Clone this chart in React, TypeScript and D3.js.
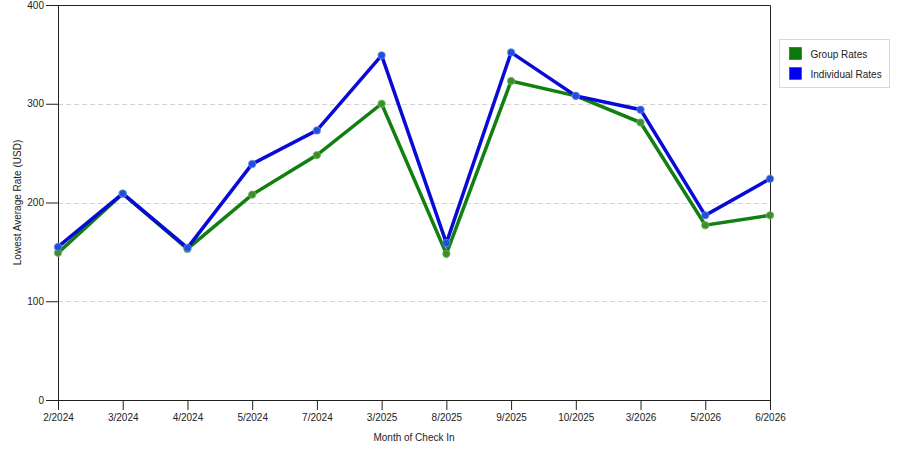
import { useEffect, useRef } from "react";
import * as d3 from "d3";

const MONTHS = ["2/2024", "3/2024", "4/2024", "5/2024", "7/2024", "3/2025", "8/2025", "9/2025", "10/2025", "3/2026", "5/2026", "6/2026"];
const GROUP_RATES = [149, 209, 153, 208, 248, 300, 148, 323, 308, 281, 177, 187];
const INDIVIDUAL_RATES = [155, 209, 154, 239, 273, 349, 159, 352, 308, 294, 187, 224];
const Y_TICKS = [0, 100, 200, 300, 400];

const SERIES = [
  { name: "Group Rates", values: GROUP_RATES, line: "#118011", dot: "#3a8f2a", ring: "#6fb25f", swatch: "#0b7a0b" },
  { name: "Individual Rates", values: INDIVIDUAL_RATES, line: "#0a0ad6", dot: "#1f4fd8", ring: "#5f86ee", swatch: "#0000ee" },
];

export default function App() {
  const svgRef = useRef<SVGSVGElement | null>(null);

  useEffect(() => {
    const svgElement = svgRef.current;
    if (!svgElement) return;

    const width = 900;
    const height = 450;
    const margin = { top: 5, right: 130, bottom: 50, left: 58 };
    const chartWidth = width - margin.left - margin.right;
    const chartHeight = height - margin.top - margin.bottom;
    const font = "'Liberation Sans', Arial, sans-serif";

    const x = d3.scalePoint().domain(MONTHS).range([0, chartWidth]);
    const y = d3.scaleLinear().domain([0, 400]).range([chartHeight, 0]);

    const svg = d3.select(svgElement);
    svg.selectAll("*").remove();

    const chart = svg.append("g").attr("transform", `translate(${margin.left}, ${margin.top})`);

    // dashed gridlines
    chart
      .selectAll("line.grid")
      .data(Y_TICKS.filter((t) => t > 0 && t < 400))
      .join("line")
      .attr("class", "grid")
      .attr("x1", 0)
      .attr("x2", chartWidth - 2)
      .attr("y1", (t) => Math.round(y(t)) + 0.5)
      .attr("y2", (t) => Math.round(y(t)) + 0.5)
      .attr("stroke", "#d4d4d4")
      .attr("stroke-dasharray", "5,3");

    // frame top + right
    chart
      .append("path")
      .attr("d", `M0,0.5H${chartWidth + 0.5}V${chartHeight}`)
      .attr("fill", "none")
      .attr("stroke", "#222");

    const yAxis = chart.append("g").call(d3.axisLeft(y).tickValues(Y_TICKS).tickSize(12).tickPadding(2));
    yAxis.select(".domain").attr("stroke", "#222");
    yAxis.selectAll(".tick line").attr("stroke", "#222");
    yAxis.selectAll("text").attr("font-size", 10).attr("font-family", font).attr("fill", "#222");

    const xAxis = chart
      .append("g")
      .attr("transform", `translate(0, ${chartHeight})`)
      .call(d3.axisBottom(x).tickSize(10).tickPadding(4));
    xAxis.select(".domain").attr("stroke", "#222");
    xAxis.selectAll(".tick line").attr("stroke", "#222");
    xAxis.selectAll("text").attr("font-size", 10).attr("font-family", font).attr("fill", "#222");

    const line = d3
      .line<number>()
      .x((_, i) => x(MONTHS[i]) ?? 0)
      .y((v) => y(v));

    SERIES.forEach((s) => {
      chart
        .append("path")
        .datum(s.values)
        .attr("d", line)
        .attr("fill", "none")
        .attr("stroke", s.line)
        .attr("stroke-width", 3.5)
        .attr("stroke-linejoin", "miter");
    });

    SERIES.forEach((s) => {
      chart
        .selectAll(null)
        .data(s.values)
        .join("circle")
        .attr("cx", (_, i) => x(MONTHS[i]) ?? 0)
        .attr("cy", (v) => y(v))
        .attr("r", 3.6)
        .attr("fill", s.dot)
        .attr("stroke", s.ring)
        .attr("stroke-opacity", 0.7)
        .attr("stroke-width", 1.2);
    });

    svg
      .append("text")
      .attr("x", margin.left + chartWidth / 2)
      .attr("y", 441)
      .attr("text-anchor", "middle")
      .attr("font-size", 10)
      .attr("font-family", font)
      .attr("fill", "#222")
      .text("Month of Check In");

    svg
      .append("text")
      .attr("transform", `translate(21, ${margin.top + chartHeight / 2}) rotate(-90)`)
      .attr("text-anchor", "middle")
      .attr("font-size", 10)
      .attr("font-family", font)
      .attr("fill", "#222")
      .text("Lowest Average Rate (USD)");

    const legend = svg.append("g").attr("transform", "translate(779.5, 39.5)");
    legend.append("rect").attr("width", 110).attr("height", 48).attr("fill", "#fff").attr("stroke", "#d8d8d8");
    SERIES.forEach((s, i) => {
      const g = legend.append("g").attr("transform", `translate(10, ${8 + i * 20})`);
      g.append("rect").attr("width", 12).attr("height", 12).attr("fill", s.swatch).attr("stroke", "#333").attr("stroke-width", 0.5);
      g.append("text")
        .attr("x", 21)
        .attr("y", 10)
        .attr("font-size", 10)
        .attr("font-family", font)
        .attr("fill", "#222")
        .text(s.name);
    });
  }, []);

  return (
    <svg
      ref={svgRef}
      width={900}
      height={450}
      style={{ display: "block", position: "absolute", left: 0, top: 0, background: "#fff" }}
    />
  );
}
